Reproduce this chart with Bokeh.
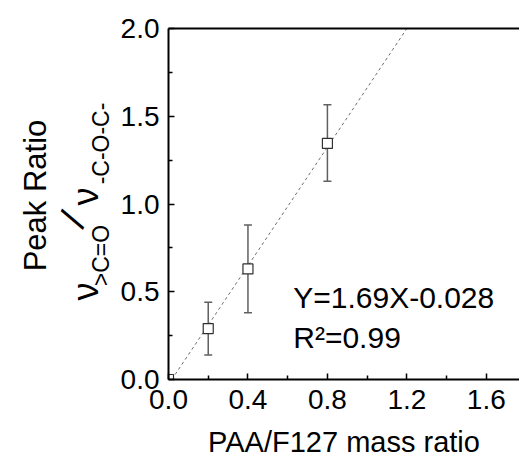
from bokeh.plotting import figure
from bokeh.models import (Range1d, LinearAxis, FixedTicker, Whisker, TeeHead,
                          ColumnDataSource, Label, PrintfTickFormatter)
from bokeh.layouts import row
from bokeh.embed import file_html
from bokeh.resources import INLINE
import math

# ---- data ----
mass_ratio = [0.0, 0.2, 0.4, 0.8]
peak_ratio = [0.0, 0.29, 0.63, 1.345]
err_lower = [0.0, 0.14, 0.38, 1.13]
err_upper = [0.0, 0.44, 0.88, 1.565]
fit_slope = 1.69
fit_intercept = -0.028
x_ticks = [0.0, 0.4, 0.8, 1.2, 1.6]
x_minor = [0.2, 0.6, 1.0, 1.4]
y_ticks = [0.0, 0.5, 1.0, 1.5, 2.0]
y_minor = [0.25, 0.75, 1.25, 1.75]
fit_text = "Y=1.69X-0.028"
r2_text = "R\u00b2=0.99"
x_title = "PAA/F127 mass ratio"
y_title = "Peak Ratio"
y_parts = ["\u03bd", ">C=O", "/", "\u03bd", "-C-O-C-"]

FONT = "Liberation Sans"
H = 460
LEFT_W = 116
FRAME_TOP = 28
FRAME_BOTTOM = 379

# ---- main plot ----
p = figure(width=519 - LEFT_W, height=H, output_backend="svg", toolbar_location=None,
           x_range=Range1d(0, 1.767), y_range=Range1d(0, 2.0),
           x_axis_location=None, y_axis_location=None,
           min_border_left=168 - LEFT_W, min_border_right=0, min_border_top=FRAME_TOP,
           min_border_bottom=H - FRAME_BOTTOM)
p.outline_line_color = None
p.grid.visible = False

def style_axis(ax):
    ax.axis_line_width = 2
    ax.axis_line_color = "black"
    ax.major_tick_in = 6
    ax.major_tick_out = 0
    ax.minor_tick_in = 4
    ax.minor_tick_out = 0
    ax.major_tick_line_width = 1.5
    ax.minor_tick_line_width = 1.5
    ax.major_tick_line_color = "black"
    ax.minor_tick_line_color = "black"
    ax.major_label_text_font = FONT
    ax.major_label_text_font_size = "28px"
    ax.major_label_text_color = "black"
    ax.formatter = PrintfTickFormatter(format="%.1f")

xaxis = LinearAxis(ticker=FixedTicker(ticks=x_ticks, minor_ticks=x_minor))
style_axis(xaxis)
xaxis.major_label_standoff = 10
xaxis.axis_label = x_title
xaxis.axis_label_text_font = FONT
xaxis.axis_label_text_font_size = "29px"
xaxis.axis_label_text_font_style = "normal"
xaxis.axis_label_text_color = "black"
xaxis.axis_label_standoff = 14
p.add_layout(xaxis, "below")

yaxis = LinearAxis(ticker=FixedTicker(ticks=y_ticks, minor_ticks=y_minor))
style_axis(yaxis)
yaxis.major_label_standoff = 9
p.add_layout(yaxis, "left")

topaxis = LinearAxis(ticker=FixedTicker(ticks=[]), major_label_text_font_size="0px")
topaxis.axis_line_width = 2
topaxis.major_tick_line_color = None
topaxis.minor_tick_line_color = None
p.add_layout(topaxis, "above")

# fit line
x0 = -fit_intercept / fit_slope
x1 = (2.0 - fit_intercept) / fit_slope
p.line([x0, x1], [fit_slope * x0 + fit_intercept, fit_slope * x1 + fit_intercept],
       line_color="#6e6e6e", line_width=1, line_dash="3 3")

# error bars and points
src = ColumnDataSource(dict(x=mass_ratio, y=peak_ratio))
err_src = ColumnDataSource(dict(x=mass_ratio[1:], lo=err_lower[1:], hi=err_upper[1:]))
wh = Whisker(base="x", lower="lo", upper="hi", source=err_src,
             line_color="#606060", line_width=1.5,
             upper_head=TeeHead(size=8, line_color="#606060", line_width=1.5),
             lower_head=TeeHead(size=8, line_color="#606060", line_width=1.5))
p.add_layout(wh)
p.scatter("x", "y", source=src, marker="square", size=10,
          fill_color="white", line_color="#303030", line_width=1.2)

p.add_layout(Label(x=0.628, y=0.376, text=fit_text, text_font=FONT,
                   text_font_size="30px", text_color="black"))
p.add_layout(Label(x=0.628, y=0.148, text=r2_text, text_font=FONT,
                   text_font_size="30px", text_color="black"))

# ---- left strip with rotated y titles (pixel coordinates) ----
# the row aligns this strip's frame with the main frame (rows FRAME_TOP..FRAME_BOTTOM)
q = figure(width=LEFT_W, height=H, output_backend="svg", toolbar_location=None,
           x_range=Range1d(0, LEFT_W), y_range=Range1d(H - FRAME_BOTTOM, H - FRAME_TOP),
           x_axis_location=None, y_axis_location=None,
           min_border=0, min_border_left=0, min_border_right=0,
           min_border_top=0, min_border_bottom=0)
q.outline_line_color = None
q.grid.visible = False

rot = math.pi / 2
def ytext(sx, sy, text, size, angle=rot, baseline="alphabetic"):
    q.add_layout(Label(x=sx, y=H - sy, text=text, angle=angle, text_align="center",
                       text_baseline=baseline, text_font=FONT,
                       text_font_size=size, text_color="black"))

ytext(35, 195, y_title, "31px")
ytext(85, 291, y_parts[0], "36px")
ytext(100, 255, y_parts[1], "23px")
ytext(72.5, 219, y_parts[2], "38px", angle=math.radians(65), baseline="middle")
ytext(85, 196, y_parts[3], "36px")
ytext(100, 143, y_parts[4], "23px")

layout = row(q, p, spacing=0)
open("out.html", "w").write(file_html(layout, INLINE))
